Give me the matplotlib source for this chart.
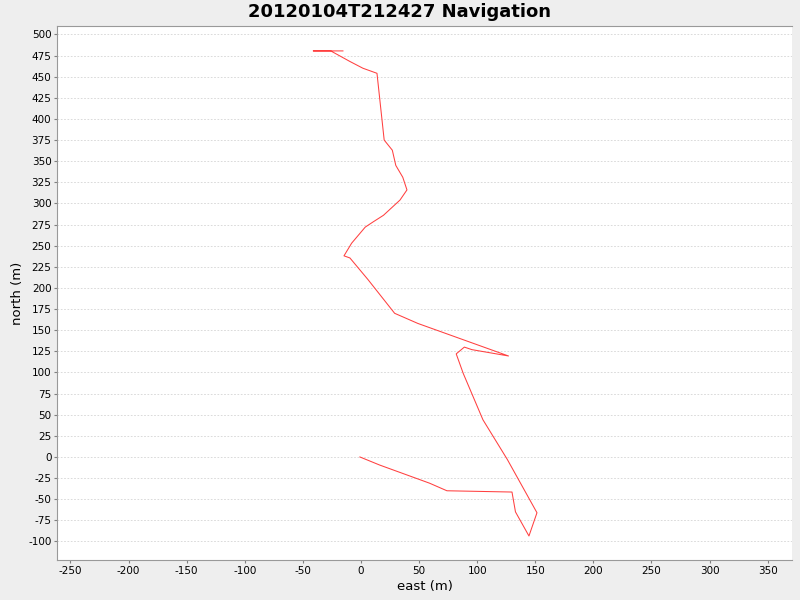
import matplotlib
matplotlib.use("Agg")
import matplotlib.pyplot as plt

plt.rcParams['axes.unicode_minus'] = False

# track east/north in metres
east = [-0.9, 16, 39, 59, 74, 130, 133, 144.6, 151.5, 126, 105, 88, 82,
        89, 95.5, 127, 49, 29, 6, -9.5, -14.6, -8, 3.7, 10.3, 19.4, 33.6,
        39.6, 36, 30, 27, 20, 13.8, 1.7, -9.5, -26, -41, -15.5]
north = [0, -9.5, -21, -31, -40, -41.5, -65, -93.5, -66, -3, 44, 99, 122,
         130, 127, 119.5, 158, 170, 210, 235.5, 238, 253, 272, 278, 286, 304,
         316, 331, 345, 363, 375, 454, 460, 468, 480.5, 480.5, 480.5]

fig = plt.figure(figsize=(8, 6), dpi=100, facecolor='#eeeeee')
ax = fig.add_axes([0.07125, 0.0667, 0.91875, 0.89])
ax.set_facecolor('white')

ax.plot(east, north, color='#ff4040', lw=0.75)

ax.set_xlim(-261.6, 371)
ax.set_ylim(-121.9, 510)
ax.set_xticks(range(-250, 351, 50))
ax.set_yticks(range(-100, 501, 25))
ax.tick_params(labelsize=7.5, length=2, color='gray', pad=2)
ax.yaxis.grid(True, color='#d4d4d4', linestyle=(0, (2, 2)), lw=0.6)
ax.set_axisbelow(True)

for s in ['left', 'bottom', 'top']:
    ax.spines[s].set_color('#999999')
ax.spines['right'].set_visible(False)

ax.set_xlabel('east (m)', fontsize=9.5, labelpad=3)
ax.set_ylabel('north (m)', fontsize=9.5, labelpad=3)
fig.suptitle('20120104T212427 Navigation', fontsize=13, fontweight='bold', y=0.995)

fig.savefig('out.png', dpi=100, facecolor=fig.get_facecolor())
